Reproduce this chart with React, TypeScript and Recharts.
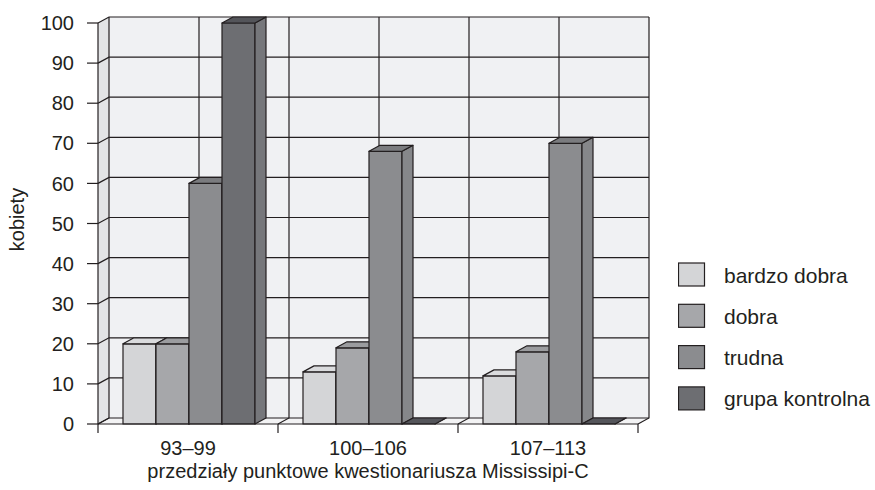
import React from 'react';
import { BarChart, Bar, XAxis, YAxis, CartesianGrid, ReferenceArea, Legend } from 'recharts';

const categories = ['93–99', '100–106', '107–113'];
const bardzoDobra = [20, 13, 12];
const dobra = [20, 19, 18];
const trudna = [60, 68, 70];
const grupaKontrolna = [100, 0, 0];
const yTicks = [0, 10, 20, 30, 40, 50, 60, 70, 80, 90, 100];

const seriesNames = ['bardzo dobra', 'dobra', 'trudna', 'grupa kontrolna'];
const seriesKeys = ['bd', 'd', 't', 'gk'];
// front / top / side face colours for each series
const faces = [
  ['#d4d5d7', '#dadbdd', '#b9babc'],
  ['#a6a7aa', '#9b9c9f', '#939497'],
  ['#8b8c8f', '#7b7c7f', '#86878a'],
  ['#6d6e72', '#54555a', '#76777b'],
];

const data = categories.map((name, i) => ({
  name,
  bd: bardzoDobra[i],
  d: dobra[i],
  t: trudna[i],
  gk: grupaKontrolna[i],
}));

const DX = 11;
const DY = -6;
const INK = '#231f20';
const FONT = '"Liberation Sans", Arial, Helvetica, sans-serif';

const box3d = (front: string, top: string, side: string) => (props: any) => {
  const { x, y, width: w, height: h } = props;
  if (x == null || y == null) return <g />;
  return (
    <g stroke={INK} strokeWidth={1.2} strokeLinejoin="round">
      <rect x={x} y={y} width={w} height={h} fill={front} />
      <polygon
        points={`${x + w},${y} ${x + w + DX},${y + DY} ${x + w + DX},${y + h + DY} ${x + w},${y + h}`}
        fill={side}
      />
      <polygon points={`${x},${y} ${x + DX},${y + DY} ${x + w + DX},${y + DY} ${x + w},${y}`} fill={top} />
    </g>
  );
};

const Walls = (props: any) => {
  const { x, y, width: w, height: h } = props;
  if (x == null) return <g />;
  return (
    <g stroke="none">
      <rect x={x + DX} y={y + DY} width={w} height={h} fill="#f0f1f3" />
      <polygon points={`${x},${y} ${x + DX},${y + DY} ${x + DX},${y + h + DY} ${x},${y + h}`} fill="#e3e4e6" />
      <polygon
        points={`${x},${y + h} ${x + DX},${y + h + DY} ${x + w + DX},${y + h + DY} ${x + w},${y + h}`}
        fill="#f3f3f4"
      />
    </g>
  );
};

const hLine = (p: any) => (
  <path
    key={`h-${p.index}`}
    d={`M${p.x1},${p.y1} L${p.x1 + DX},${p.y1 + DY} L${p.x2 + DX},${p.y2 + DY}`}
    stroke={INK}
    strokeWidth={1.2}
    fill="none"
  />
);

const vLine = (p: any) => (
  <path
    key={`v-${p.index}`}
    d={`M${p.x1 + DX},${p.y1 + DY} L${p.x1 + DX},${p.y2 + DY} L${p.x2},${p.y2}`}
    stroke={INK}
    strokeWidth={1.2}
    fill="none"
  />
);

const XTick = (props: any) => {
  const { x, y, payload, index, visibleTicksCount } = props;
  const half = payload && payload.offset ? payload.offset : 90;
  return (
    <g>
      <line x1={x - half} y1={y} x2={x - half} y2={y + 9} stroke={INK} strokeWidth={1.2} />
      {index === visibleTicksCount - 1 && (
        <line x1={x + half} y1={y} x2={x + half} y2={y + 9} stroke={INK} strokeWidth={1.2} />
      )}
      <text x={x} y={y + 31} textAnchor="middle" fill={INK} fontSize={20} fontFamily={FONT}>
        {payload.value}
      </text>
    </g>
  );
};

const XLabel = (props: any) => {
  const vb = props.viewBox;
  return (
    <text x={vb.x + vb.width / 2} y={vb.y + 54} textAnchor="middle" fill={INK} fontSize={20} fontFamily={FONT}>
      przedziały punktowe kwestionariusza Mississipi-C
    </text>
  );
};

const YLabel = (props: any) => {
  const vb = props.viewBox;
  const cx = 17;
  const cy = vb.y + vb.height / 2 - 4;
  return (
    <text
      x={cx}
      y={cy}
      transform={`rotate(-90, ${cx}, ${cy})`}
      textAnchor="middle"
      dominantBaseline="central"
      fill={INK}
      fontSize={20}
      fontFamily={FONT}
    >
      kobiety
    </text>
  );
};

const LegendContent = (props: any) => {
  const payload = [...(props.payload || [])].sort(
    (a: any, b: any) => seriesNames.indexOf(a.value) - seriesNames.indexOf(b.value)
  );
  return (
    <svg width={200} height={170}>
      {payload.map((entry: any, i: number) => {
        const top = 1 + i * 41.3;
        return (
          <g key={entry.value}>
            <rect x={0.5} y={top} width={26} height={23} fill={entry.color} stroke={INK} strokeWidth={1.2} />
            <text x={46} y={top + 19.5} fill={INK} fontSize={21} fontFamily={FONT}>
              {entry.value}
            </text>
          </g>
        );
      })}
    </svg>
  );
};

export default function App() {
  return (
    <div style={{ position: 'absolute', left: 0, top: 0, width: 875, height: 490, background: '#fff' }}>
      <BarChart
        width={875}
        height={490}
        data={data}
        margin={{ top: 23, right: 237, bottom: 0, left: 0 }}
        barCategoryGap={25}
        barGap={0}
      >
        <ReferenceArea y1={0} y2={100} shape={Walls} ifOverflow="visible" zIndex={-200} />
        <CartesianGrid
          horizontal={hLine}
          vertical={vLine}
          verticalCoordinatesGenerator={({ offset }: any) =>
            Array.from({ length: categories.length * 2 + 1 }, (_, i) => offset.left + (i * offset.width) / (categories.length * 2))
          }
        />
        <XAxis
          dataKey="name"
          interval={0}
          height={66}
          tickSize={0}
          tickMargin={0}
          tickLine={false}
          axisLine={{ stroke: INK, strokeWidth: 1.2 }}
          tick={XTick}
          label={XLabel}
        />
        <YAxis
          type="number"
          domain={[0, 100]}
          ticks={yTicks}
          interval={0}
          width={98}
          tickSize={11}
          tickMargin={13}
          axisLine={{ stroke: INK, strokeWidth: 1.2 }}
          tickLine={{ stroke: INK, strokeWidth: 1.2 }}
          tick={{ fill: INK, fontSize: 20, fontFamily: FONT }}
          label={YLabel}
        />
        <Legend
          layout="vertical"
          align="center"
          verticalAlign="middle"
          wrapperStyle={{ left: 678, top: 262, width: 200, height: 170 }}
          content={LegendContent}
        />
        {seriesKeys.map((k, i) => (
          <Bar
            key={k}
            dataKey={k}
            name={seriesNames[i]}
            fill={faces[i][0]}
            shape={box3d(faces[i][0], faces[i][1], faces[i][2])}
            isAnimationActive={false}
          />
        ))}
      </BarChart>
    </div>
  );
}
